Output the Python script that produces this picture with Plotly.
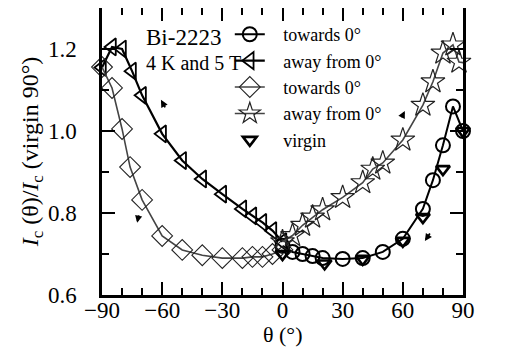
import plotly.graph_objects as go

# towards 0° (positive side, circles)
circ_x = [90, 85, 80, 75, 70, 60, 50, 40, 30, 20, 15, 10, 5, 0]
circ_y = [1.0, 1.06, 0.965, 0.88, 0.81, 0.737, 0.705, 0.69, 0.688, 0.69, 0.695, 0.70, 0.705, 0.72]

# away from 0° (negative side, left triangles)
tri_x = [0, -5, -10, -15, -20, -30, -40, -50, -60, -70, -75, -80, -85, -90]
tri_y = [0.73, 0.757, 0.777, 0.793, 0.81, 0.846, 0.883, 0.928, 0.993, 1.087, 1.146, 1.2, 1.205, 1.155]

# towards 0° (negative side, diamonds)
dia_x = [-90, -85, -80, -76, -70, -60, -50, -40, -30, -20, -15, -10, -5, 0]
dia_y = [1.156, 1.105, 1.005, 0.912, 0.832, 0.744, 0.71, 0.697, 0.69, 0.69, 0.693, 0.693, 0.70, 0.71]

# away from 0° (positive side, stars)
star_x = [0, 5, 10, 15, 20, 30, 40, 45, 50, 60, 70, 75, 80, 85, 88, 91]
star_y = [0.73, 0.745, 0.77, 0.79, 0.808, 0.838, 0.874, 0.907, 0.922, 0.978, 1.063, 1.12, 1.19, 1.21, 1.168, 1.166]

# virgin
vir_x = [90, 80, 70, 60, 40, 21, 0]
vir_y = [1.0, 0.907, 0.79, 0.732, 0.688, 0.677, 0.70]

FONT = "Liberation Serif"
PAD = "\u2002\u00a0"  # extra gap between legend symbol and text

fig = go.Figure()
fig.add_trace(go.Scatter(x=circ_x, y=circ_y, name=PAD + "towards 0°",
                         mode="lines+markers", cliponaxis=False,
                         line=dict(color="black", width=2),
                         marker=dict(symbol="circle-open", size=14, color="black", line=dict(width=2))))
fig.add_trace(go.Scatter(x=tri_x, y=tri_y, name=PAD + "away from 0°",
                         mode="lines+markers", cliponaxis=False,
                         line=dict(color="black", width=2.2),
                         marker=dict(symbol="triangle-left-open", size=15, color="black", line=dict(width=1.8))))
fig.add_trace(go.Scatter(x=dia_x, y=dia_y, name=PAD + "towards 0°",
                         mode="lines+markers", cliponaxis=False,
                         line=dict(color="#444444", width=1.6),
                         marker=dict(symbol="diamond-open", size=16, color="#222222", line=dict(width=1.1))))
fig.add_trace(go.Scatter(x=star_x, y=star_y, name=PAD + "away from 0°",
                         mode="lines+markers", cliponaxis=False,
                         line=dict(color="#444444", width=1.6),
                         marker=dict(symbol="star-open", size=18, color="#222222", line=dict(width=1.2))))
fig.add_trace(go.Scatter(x=vir_x, y=vir_y, name=PAD + "virgin",
                         mode="markers", cliponaxis=False,
                         marker=dict(symbol="triangle-down-open", size=12, color="black", line=dict(width=2.6))))

ann = [
    dict(x=-69, y=1.229, text="Bi-2223", showarrow=False, xanchor="left", yanchor="middle",
         font=dict(family=FONT, size=23)),
    dict(x=-69, y=1.165, text="4 K and 5 T", showarrow=False, xanchor="left", yanchor="middle",
         font=dict(family=FONT, size=20)),
    dict(x=107, y=1.11, text="start", showarrow=False, font=dict(family=FONT, size=19)),
    dict(x=0.5, xref="paper", y=-0.136, yref="paper", text="θ (°)", showarrow=False,
         xanchor="center", yanchor="middle", font=dict(family=FONT, size=22)),
    dict(x=96.5, y=1.017, ax=16, ay=-22, text="", showarrow=True, arrowhead=2, arrowsize=1,
         arrowwidth=2.2, arrowcolor="black"),
    dict(x=-60.6, y=1.076, ax=5, ay=9, text="", showarrow=True, arrowhead=2, arrowsize=0.8,
         arrowwidth=1.8, arrowcolor="black"),
    dict(x=-72.5, y=0.776, ax=2, ay=-9, text="", showarrow=True, arrowhead=2, arrowsize=0.8,
         arrowwidth=1.8, arrowcolor="black"),
    dict(x=61, y=1.049, ax=-4, ay=8, text="", showarrow=True, arrowhead=2, arrowsize=0.8,
         arrowwidth=1.8, arrowcolor="black"),
    dict(x=71, y=0.732, ax=6, ay=-9, text="", showarrow=True, arrowhead=2, arrowsize=0.8,
         arrowwidth=1.8, arrowcolor="black"),
]

axis_common = dict(showline=True, linecolor="black", linewidth=2.5, mirror="ticks",
                   ticks="inside", tickcolor="black", tickwidth=2.2, showgrid=False,
                   zeroline=False, automargin=False,
                   tickfont=dict(family=FONT, size=23, color="black"))

fig.update_layout(
    width=517, height=347,
    margin=dict(l=94, r=62, t=0, b=60),
    paper_bgcolor="white", plot_bgcolor="white",
    font=dict(family=FONT, color="black"),
    showlegend=True,
    legend=dict(x=0.354, y=0.972, xanchor="left", yanchor="top", traceorder="normal",
                bgcolor="rgba(0,0,0,0)",
                font=dict(family=FONT, size=18, color="black")),
    annotations=ann,
    xaxis=dict(range=[-90, 90], tick0=-90, dtick=30, ticklen=13, ticklabelstandoff=-7,
               minor=dict(dtick=10, ticks="inside", ticklen=7, tickcolor="black", tickwidth=2),
               **axis_common),
    yaxis=dict(range=[0.6, 1.3], tick0=0.6, dtick=0.2, ticklen=13, tickformat=".1f",
               ticklabelstandoff=18,
               minor=dict(dtick=0.1, ticks="inside", ticklen=7, tickcolor="black", tickwidth=2),
               title=dict(text="<i>I</i><sub>c</sub> (θ)/<i>I</i><sub>c</sub> (virgin 90°)",
                          font=dict(family=FONT, size=24), standoff=3),
               **axis_common),
)

fig.write_html("out.html")
